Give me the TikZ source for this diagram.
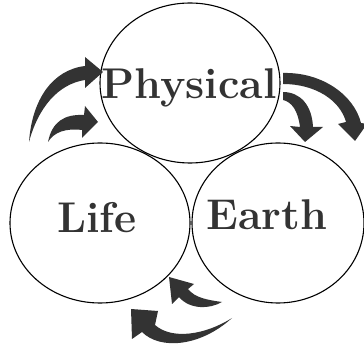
\documentclass[tikz,border=0pt]{standalone}
\usepackage{tikz}
\usetikzlibrary{shapes.geometric, positioning}
\definecolor{inkdark}{HTML}{333333}

\begin{document}
\begin{tikzpicture}[
    x=1pt, y=-1pt,
    sphere/.style={draw=black, ellipse, line width=1.1pt, inner sep=0pt,
                   minimum width=180pt, minimum height=160pt},
    word/.style={font=\fontsize{43}{43}\selectfont\bfseries, text=inkdark, inner sep=0pt},
    blk/.style={fill=inkdark, draw=none},
]
    \useasboundingbox (0,0) rectangle (364,352);
    \clip (0,0) rectangle (364,352);

    % Spheres
    \node[sphere] (phys) at (190,83) {};
    \node[sphere] (life) at (100,223) {};
    \node[sphere, minimum width=172pt] (earth) at (278,223) {};

    % Labels
    \node[word] (physlbl) at (189,88) {Physical};
    \node[word] (lifelbl) at (97,218) {Life};
    \node[word] (earthlbl) at (267,215) {Earth};

    % Arrows: Life -> Physical
    \fill[blk] (29,142) .. controls (32,100) and (52,70) .. (85,66)
        -- (85,57) -- (103,72) -- (85,88) -- (85,80)
        .. controls (58,84) and (38,108) .. cycle;
    \fill[blk] (48,142) .. controls (52,122) and (64,114) .. (84,115)
        -- (85,106) -- (98,122) -- (82,138) -- (82,130)
        .. controls (66,128) and (54,132) .. cycle;

    % Arrows: Physical -> Earth
    \fill[blk] (283,73) .. controls (322,72) and (354,95) .. (361,123)
        -- (367,124) -- (355,141) -- (338,124) -- (346,122)
        .. controls (340,100) and (315,84) .. (283,84) -- cycle;
    \fill[blk] (283,92) .. controls (300,92) and (312,105) .. (313,127)
        -- (323,127) -- (305,142) -- (290,126) -- (300,127)
        .. controls (298,111) and (292,102) .. (283,100) -- cycle;

    % Arrows: Earth -> Life
    \fill[blk] (222,302) .. controls (208,300) and (195,298) .. (188,289)
        -- (194,284) -- (169,277) -- (172,304) -- (179,297)
        .. controls (190,310) and (210,309) .. cycle;
    \fill[blk] (232,318) .. controls (205,335) and (172,340) .. (155,325)
        -- (158,311) -- (131,309) -- (132,339) -- (142,332)
        .. controls (160,350) and (200,347) .. cycle;
\end{tikzpicture}
\end{document}
